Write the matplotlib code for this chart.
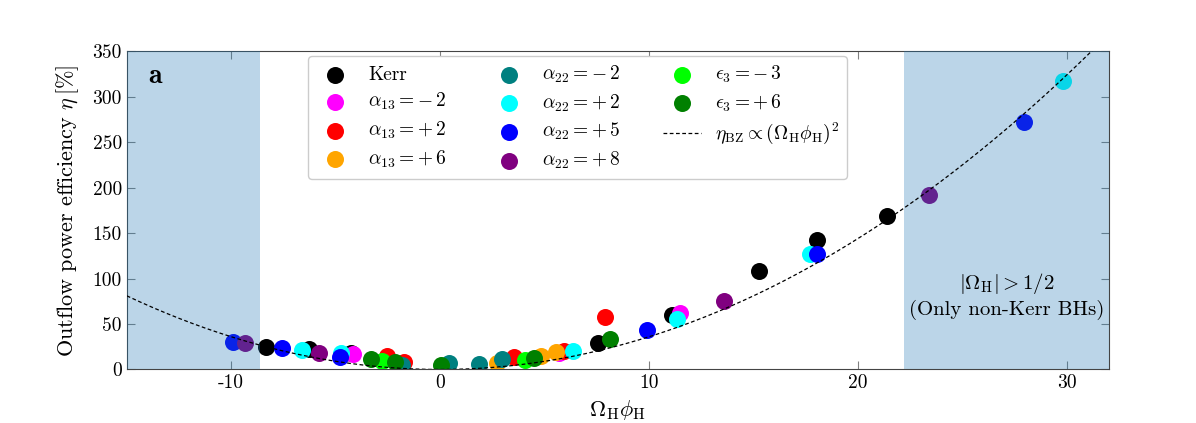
import numpy as np
import matplotlib
matplotlib.use('Agg')
import matplotlib.pyplot as plt

plt.rcParams['font.family'] = 'serif'
plt.rcParams['font.serif'] = ['cmr10']
plt.rcParams['mathtext.fontset'] = 'cm'
plt.rcParams['axes.unicode_minus'] = False
plt.rcParams['axes.formatter.use_mathtext'] = False

# ----------- data: (Omega_H phi_H, eta [%])
kerr_x = [-8.35, -6.28, -4.28, 7.54, 11.09, 15.27, 18.02, 21.38]
kerr_y = [25.0, 22.5, 17.7, 29.4, 59.7, 107.9, 142.6, 169.2]
a13m2_x = [-4.16, 5.71, 11.46]
a13m2_y = [16.6, 18.6, 61.6]
a13p2_x = [-2.53, -1.73, 3.55, 5.95, 7.87]
a13p2_y = [14.8, 8.5, 13.4, 20.3, 57.8]
a13p6_x = [2.70, 4.83, 5.55]
a13p6_y = [6.8, 14.8, 19.5]
a22m2_x = [-1.81, 0.43, 1.87, 2.96]
a22m2_y = [4.9, 7.4, 6.0, 11.2]
a22p2_x = [-6.59, -4.76, 6.38, 11.33, 17.70, 29.82]
a22p2_y = [21.0, 17.7, 20.6, 55.3, 127.3, 317.1]
a22p5_x = [-9.91, -7.56, -4.80, 9.89, 18.03, 27.96]
a22p5_y = [30.4, 23.9, 14.0, 43.3, 126.8, 271.9]
a22p8_x = [-9.32, -5.80, 13.59, 23.41]
a22p8_y = [29.4, 17.7, 75.4, 191.9]
e3m3_x = [-2.77, 4.08]
e3m3_y = [9.3, 10.4]
e3p6_x = [-3.29, -2.16, 0.03, 4.51, 8.11]
e3p6_y = [11.5, 7.9, 4.9, 12.3, 33.1]

k_bz = 0.36  # eta_BZ = k (Omega_H phi_H)^2
left_edge = -8.6
right_edge = 22.2

series = [
    (kerr_x, kerr_y, 'black', 'Kerr'),
    (a13m2_x, a13m2_y, 'magenta', r'$\alpha_{13}=-\,2$'),
    (a13p2_x, a13p2_y, 'red', r'$\alpha_{13}=+\,2$'),
    (a13p6_x, a13p6_y, 'orange', r'$\alpha_{13}=+\,6$'),
    (a22m2_x, a22m2_y, 'teal', r'$\alpha_{22}=-\,2$'),
    (a22p2_x, a22p2_y, 'cyan', r'$\alpha_{22}=+\,2$'),
    (a22p5_x, a22p5_y, 'blue', r'$\alpha_{22}=+\,5$'),
    (a22p8_x, a22p8_y, 'purple', r'$\alpha_{22}=+\,8$'),
    (e3m3_x, e3m3_y, 'lime', r'$\epsilon_{3}=-\,3$'),
    (e3p6_x, e3p6_y, 'green', r'$\epsilon_{3}=+\,6$'),
]

fig = plt.figure(figsize=(11.96, 4.23), dpi=100)
ax = fig.add_axes([0.106, 0.1265, 0.821, 0.7525])

for xs, ys, c, lab in series:
    ax.scatter(xs, ys, s=150, c=c, label=lab, zorder=2, linewidths=0)

xx = np.linspace(-15, 32, 300)
ax.plot(xx, k_bz * xx ** 2, 'k--', lw=0.9, dashes=(3, 2), zorder=4,
        label=r'$\eta_{\rm BZ} \propto (\Omega_{\rm H}\phi_{\rm H})^2$')

ax.axvspan(-15, left_edge, color='tab:blue', alpha=0.3, lw=0, zorder=3)
ax.axvspan(right_edge, 32, color='tab:blue', alpha=0.3, lw=0, zorder=3)

ax.set_xlim(-15, 32)
ax.set_ylim(0, 350)
ax.set_xticks([-10, 0, 10, 20, 30])
ax.set_yticks(np.arange(0, 351, 50))
ax.tick_params(direction='in', top=True, right=True, length=6, color='gray', labelsize=14)
for sp in ax.spines.values():
    sp.set_color('#444444')

ax.set_xlabel(r'$\Omega_{\rm H}\phi_{\rm H}$', fontsize=16)
ax.set_ylabel(r'Outflow power efficiency $\eta\,[\%]$', fontsize=16, labelpad=8)

ax.text(0.022, 0.9, r'$\mathbf{a}$', transform=ax.transAxes, fontsize=20)
ax.text(27.1, 95, r'$|\Omega_{\rm H}| > 1/2$', ha='center', va='center', fontsize=15)
ax.text(27.1, 65, '(Only non-Kerr BHs)', ha='center', va='center', fontsize=15)

ax.legend(loc='upper center', bbox_to_anchor=(0.459, 0.985), borderaxespad=0,
          ncol=3, fontsize=14, handletextpad=0.7, columnspacing=2.2,
          labelspacing=0.38, borderpad=0.4, framealpha=1.0, edgecolor='#cccccc')

fig.savefig('out.png', dpi=100)
